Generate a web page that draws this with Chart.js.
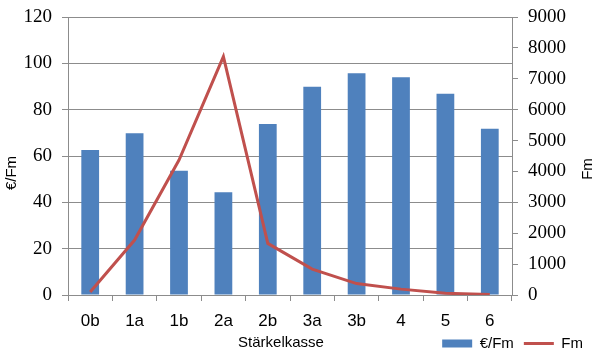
<!DOCTYPE html>
<html>
<head>
<meta charset="utf-8">
<script src="https://cdn.jsdelivr.net/npm/chart.js@4/dist/chart.umd.min.js"></script>
<style>
html,body{margin:0;padding:0;background:#fff;}
#wrap{width:600px;height:358px;position:relative;}
</style>
</head>
<body>
<div id="wrap"><canvas id="c"></canvas></div>
<script>
const categories = ['0b','1a','1b','2a','2b','3a','3b','4','5','6'];
const eurPerFm = [62.6, 69.8, 53.6, 44.3, 73.8, 89.9, 95.7, 94.0, 86.9, 71.8];
const fm = [100, 1780, 4370, 7720, 1670, 840, 370, 190, 55, 20];
const leftTicks = [0, 20, 40, 60, 80, 100, 120];
const rightTicks = [0, 1000, 2000, 3000, 4000, 5000, 6000, 7000, 8000, 9000];
const xTitle = 'Stärkelkasse';
const leftTitle = '€/Fm';
const rightTitle = 'Fm';
const barLabel = '€/Fm';
const lineLabel = 'Fm';

const BLUE = '#4F81BD';
const RED = '#C0504D';
const GRID = '#8C8C8C';
const SERIF = "'Liberation Serif', 'Times New Roman', 'DejaVu Serif', serif";
const SANS = "'Liberation Sans', Arial, sans-serif";

const titlesPlugin = {
  id: 'titles',
  afterDraw(chart) {
    const ctx = chart.ctx;
    ctx.save();
    ctx.fillStyle = '#000';
    ctx.font = '15px ' + SANS;
    ctx.textAlign = 'center';
    ctx.textBaseline = 'middle';
    ctx.fillText(xTitle, 281, 343);
    ctx.translate(12, 173);
    ctx.rotate(-Math.PI / 2);
    ctx.fillText(leftTitle, 0, 0);
    ctx.restore();
    ctx.save();
    ctx.fillStyle = '#000';
    ctx.font = '15px ' + SANS;
    ctx.textAlign = 'center';
    ctx.textBaseline = 'middle';
    ctx.translate(588, 169);
    ctx.rotate(-Math.PI / 2);
    ctx.fillText(rightTitle, 0, 0);
    ctx.restore();
  }
};

function fixVertical(width) {
  return function (s) {
    s.width = width;
    s.paddingTop = 0;
    s.paddingBottom = 0;
  };
}

new Chart(document.getElementById('c'), {
  type: 'bar',
  data: {
    labels: categories,
    datasets: [
      {
        type: 'line',
        label: lineLabel,
        data: fm,
        yAxisID: 'y2',
        borderColor: RED,
        backgroundColor: RED,
        borderWidth: 3,
        pointRadius: 0,
        tension: 0,
        order: 0
      },
      {
        type: 'bar',
        label: barLabel,
        data: eurPerFm,
        yAxisID: 'y',
        backgroundColor: BLUE,
        borderWidth: 0,
        categoryPercentage: 1.0,
        barPercentage: 0.4,
        order: 1
      }
    ]
  },
  options: {
    responsive: true,
    maintainAspectRatio: false,
    animation: false,
    devicePixelRatio: 1,
    layout: { padding: { top: 17, left: 0, right: 7, bottom: -3 } },
    plugins: {
      tooltip: { enabled: false },
      legend: {
        position: 'bottom',
        align: 'end',
        labels: {
          usePointStyle: true,
          pointStyleWidth: 30,
          boxHeight: 8,
          padding: 10,
          color: '#000',
          font: { family: SANS, size: 15, lineHeight: 0.67 },
          generateLabels() {
            return [
              { text: barLabel, fillStyle: BLUE, strokeStyle: BLUE, lineWidth: 0, pointStyle: 'rect', datasetIndex: 1, hidden: false },
              { text: lineLabel, fillStyle: RED, strokeStyle: RED, lineWidth: 3, pointStyle: 'line', datasetIndex: 0, hidden: false }
            ];
          }
        }
      }
    },
    scales: {
      x: {
        offset: true,
        grid: { offset: true, drawOnChartArea: false, tickLength: 6, color: GRID },
        border: { color: GRID },
        ticks: {
          color: '#000',
          padding: 10,
          maxRotation: 0,
          font: { family: SANS, size: 17 }
        },
        afterFit(s) { s.height = 31; s.paddingLeft = 0; s.paddingRight = 0; s._computeLabelArea = () => undefined; }
      },
      y: {
        position: 'left',
        min: 0, max: 120,
        afterBuildTicks(s) { s.ticks = leftTicks.map(v => ({ value: v })); },
        grid: { color: GRID, tickLength: 6 },
        border: { color: GRID },
        ticks: {
          color: '#000',
          padding: 10,
          font: { family: SERIF, size: 19 },
          callback: v => String(v)
        },
        afterFit: fixVertical(68)
      },
      y2: {
        position: 'right',
        min: 0, max: 9000,
        afterBuildTicks(s) { s.ticks = rightTicks.map(v => ({ value: v })); },
        grid: { drawOnChartArea: false, color: GRID, tickLength: 6 },
        border: { color: GRID },
        ticks: {
          color: '#000',
          padding: 10,
          font: { family: SERIF, size: 19 },
          callback: v => String(v)
        },
        afterFit: fixVertical(81)
      }
    }
  },
  plugins: [titlesPlugin]
});
</script>
</body>
</html>
